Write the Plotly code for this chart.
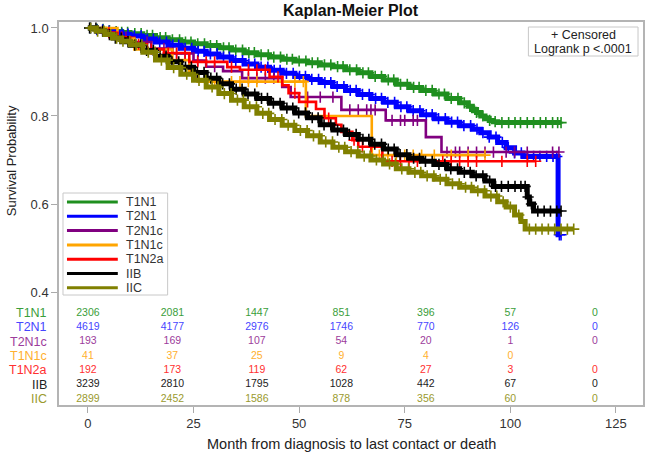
import numpy as np
import plotly.graph_objects as go

# ---------------- data ----------------
groups = ["T1N1", "T2N1", "T2N1c", "T1N1c", "T1N2a", "IIB", "IIC"]

# T1N1
t1n1_t = [2, 4, 6, 8, 10, 13, 16, 19, 22, 25, 28, 31, 34, 37, 40, 43, 46, 49, 52, 55, 58, 61, 64, 67, 70, 73, 76,
          79, 82, 85, 88, 90, 91, 92, 93, 94, 95, 96, 97]
t1n1_s = [0.997, 0.994, 0.992, 0.990, 0.987, 0.983, 0.978, 0.973, 0.968, 0.964, 0.960, 0.955, 0.950, 0.944, 0.939,
          0.934, 0.929, 0.925, 0.921, 0.916, 0.912, 0.905, 0.898, 0.890, 0.882, 0.872, 0.865, 0.858, 0.850, 0.840,
          0.830, 0.822, 0.815, 0.808, 0.800, 0.795, 0.790, 0.787, 0.785]
t1n1_c = [0.5, 2.2, 3.6, 5.1, 6.7, 8.0, 9.4, 11.1, 12.6, 14.0, 15.3, 17.1, 18.4, 20.0, 21.7, 23.1, 24.4, 26.0, 27.6,
          29.0, 30.5, 32.1, 33.4, 35.0, 36.6, 38.1, 39.4, 41.0, 42.7, 44.0, 45.6, 47.1, 48.4, 50.0, 51.6, 53.1, 54.4,
          56.0, 57.5, 59.1, 60.4, 62.0, 63.6, 65.1, 66.4, 68.0, 69.5, 71.1, 72.4, 74.0, 75.6, 77.1, 78.4, 80.0, 81.5,
          83.1, 84.4, 86.0, 87.6, 89.1, 90.4, 92.0, 93.5, 95.1, 96.4, 98.0, 99.6, 101.1, 102.4, 104.0, 105.5, 107.1,
          108.4, 110.0, 111.2, 112.0]

# T2N1
t2n1_t = [2, 4, 6, 8, 10, 13, 16, 19, 22, 25, 28, 31, 34, 37, 40, 43, 46, 49, 52, 55, 58, 61, 64, 67, 70, 73, 76,
          79, 82, 85, 88, 91, 93, 95, 97, 99, 101, 103, 111.3]
t2n1_s = [0.996, 0.993, 0.990, 0.986, 0.982, 0.975, 0.968, 0.961, 0.954, 0.947, 0.941, 0.934, 0.926, 0.918, 0.911,
          0.904, 0.897, 0.890, 0.883, 0.876, 0.867, 0.858, 0.849, 0.840, 0.831, 0.821, 0.812, 0.803, 0.794, 0.786,
          0.778, 0.770, 0.762, 0.752, 0.740, 0.728, 0.716, 0.708, 0.530]
t2n1_c = [0.6, 2.1, 3.5, 5.0, 6.6, 8.1, 9.5, 11.0, 12.6, 14.1, 15.5, 17.0, 18.6, 20.1, 21.5, 23.0, 24.6, 26.1, 27.5,
          29.0, 30.6, 32.1, 33.5, 35.0, 36.6, 38.1, 39.5, 41.0, 42.6, 44.1, 45.5, 47.0, 48.6, 50.1, 51.5, 53.0, 54.6,
          56.1, 57.5, 59.0, 60.6, 62.1, 63.5, 65.0, 66.6, 68.1, 69.5, 71.0, 72.6, 74.1, 75.5, 77.0, 78.6, 80.1, 81.5,
          83.0, 84.6, 86.1, 87.5, 89.0, 90.6, 92.1, 93.5, 95.0, 96.6, 98.1, 99.5, 101.0, 102.6, 104.1, 105.5, 107.0,
          108.6, 110.1, 111.0, 111.6, 112.0]

# T2N1c
t2n1c_t = [3, 7, 11, 15, 20, 25, 28, 32, 36.5, 46, 48, 60, 70.5, 80, 83.7]
t2n1c_s = [0.990, 0.979, 0.968, 0.953, 0.942, 0.926, 0.912, 0.902, 0.886, 0.866, 0.843, 0.814, 0.790, 0.752, 0.718]
t2n1c_c = [5, 9, 14, 18, 21, 23, 26, 30, 38, 40, 42, 44, 52, 55, 58, 62, 64, 66, 67, 68, 72, 74, 75, 77, 78, 85,
           87, 88, 90, 92, 94, 96, 99, 101, 104, 110, 111.5]

# T1N1c
t1n1c_t = [7, 11, 20, 24, 26, 51.6, 67.2]
t1n1c_s = [0.976, 0.951, 0.927, 0.902, 0.878, 0.800, 0.711]
t1n1c_c = [30, 34, 36, 38, 40, 49, 51, 69, 71, 73, 75, 77, 79, 82, 86, 90, 94]

# T1N2a
t1n2a_t = [2, 4, 7, 10, 14, 18, 24, 33, 36, 43, 46, 47.5, 50, 54, 56, 58.7, 60, 62.6, 64, 69.7]
t1n2a_s = [0.995, 0.989, 0.979, 0.963, 0.952, 0.943, 0.923, 0.911, 0.905, 0.889, 0.870, 0.852, 0.832, 0.816,
           0.795, 0.780, 0.764, 0.745, 0.730, 0.697]
t1n2a_c = [5, 8, 12, 15, 19, 21, 23, 26, 28, 30, 34, 38, 40, 42, 45, 49, 52, 57, 63, 65, 67, 72, 74, 76, 78, 84,
           86, 88, 90, 92, 98, 104, 106]

# IIB
iib_t = [2, 4, 6, 8, 10, 13, 16, 19, 22, 25, 28, 31, 34, 37, 40, 43, 46, 49, 52, 55, 58, 61, 64, 67, 70, 73, 76, 79,
         82, 85, 88, 91, 94, 96, 104, 104.5, 105.5]
iib_s = [0.993, 0.985, 0.977, 0.969, 0.961, 0.949, 0.936, 0.923, 0.911, 0.899, 0.886, 0.873, 0.861, 0.850, 0.840,
         0.829, 0.818, 0.807, 0.796, 0.780, 0.768, 0.758, 0.747, 0.736, 0.725, 0.712, 0.704, 0.697, 0.690, 0.680,
         0.672, 0.664, 0.652, 0.640, 0.616, 0.600, 0.584]
iib_c = [0.4, 1.9, 3.5, 5.1, 6.5, 7.9, 9.5, 11.1, 12.5, 13.9, 15.5, 17.1, 18.5, 19.9, 21.5, 23.1, 24.5, 25.9, 27.5,
         29.1, 30.5, 31.9, 33.5, 35.1, 36.5, 37.9, 39.5, 41.1, 42.5, 43.9, 45.5, 47.1, 48.5, 49.9, 51.5, 53.1, 54.5,
         55.9, 57.5, 59.1, 60.5, 61.9, 63.5, 65.1, 66.5, 67.9, 69.5, 71.1, 72.5, 73.9, 75.5, 77.1, 78.5, 79.9, 81.5,
         83.1, 84.5, 85.9, 87.5, 89.1, 90.5, 91.9, 93.5, 95.1, 96.5, 97.9, 99.5, 101.1, 102.5, 103.5, 104.2, 105.0,
         106.5, 108.0, 109.5, 111.0, 112.0]

# IIC
iic_t = [2, 4, 6, 8, 10, 13, 16, 19, 22, 25, 28, 31, 34, 37, 40, 43, 46, 49, 52, 55, 58, 61, 64, 67, 70, 73, 76, 79,
         82, 85, 88, 91, 94, 97, 99, 101, 102.5, 103.5]
iic_s = [0.993, 0.985, 0.977, 0.970, 0.962, 0.945, 0.927, 0.910, 0.895, 0.881, 0.866, 0.851, 0.836, 0.821, 0.806,
         0.792, 0.779, 0.767, 0.755, 0.741, 0.729, 0.719, 0.709, 0.700, 0.691, 0.680, 0.672, 0.664, 0.656, 0.646,
         0.638, 0.630, 0.618, 0.605, 0.593, 0.575, 0.560, 0.543]
iic_c = [0.7, 2.3, 3.8, 5.4, 6.8, 8.3, 9.9, 11.4, 12.8, 14.3, 15.9, 17.4, 18.8, 20.3, 21.9, 23.4, 24.8, 26.3, 27.9,
         29.4, 30.8, 32.3, 33.9, 35.4, 36.8, 38.3, 39.9, 41.4, 42.8, 44.3, 45.9, 47.4, 48.8, 50.3, 51.9, 53.4, 54.8,
         56.3, 57.9, 59.4, 60.8, 62.3, 63.9, 65.4, 66.8, 68.3, 69.9, 71.4, 72.8, 74.3, 75.9, 77.4, 78.8, 80.3, 81.9,
         83.4, 84.8, 86.3, 87.9, 89.4, 90.8, 92.3, 93.9, 95.4, 96.8, 98.3, 100.0, 102.0, 104.5, 106.0, 107.5, 109.0,
         110.5, 112.0, 113.5, 115.0]

# number at risk
risk_times = [0, 20, 40, 60, 80, 100, 120]
t1n1_risk = [2306, 2081, 1447, 851, 396, 57, 0]
t2n1_risk = [4619, 4177, 2976, 1746, 770, 126, 0]
t2n1c_risk = [193, 169, 107, 54, 20, 1, 0]
t1n1c_risk = [41, 37, 25, 9, 4, 0]
t1n2a_risk = [192, 173, 119, 62, 27, 3, 0]
iib_risk = [3239, 2810, 1795, 1028, 442, 67, 0]
iic_risk = [2899, 2452, 1586, 878, 356, 60, 0]

x_ticks = [0, 25, 50, 75, 100, 125]
y_ticks = [0.4, 0.6, 0.8, 1.0]
inset_lines = ["+ Censored", "Logrank p <.0001"]

# ---------------- styling ----------------
line_colors = ["#1f8f1f", "#0000ff", "#800080", "#ffa500", "#ff0000", "#000000", "#808000"]
text_colors = ["#3a9e3a", "#4646ff", "#9c3c9c", "#ffb02e", "#ff3030", "#222222", "#9a9a2e"]
dense = [True, True, False, False, False, True, True]
FONT = "Liberation Sans, Arial, sans-serif"

W, H = 647, 455
PL, PR, PT, PB = 59, 645, 22, 405          # frame in page pixels
L, T = PL, PT
R, B = W - PR, H - PB
plot_w = PR - PL
plot_h = PB - PT
X_RANGE = [-6.84, 131.4]
Y_RANGE = [0.1432, 1.0136]


def px_x(px):
    return (px - PL) / plot_w


def px_y(py):
    return (PB - py) / plot_h


def y_from_py(py):
    return Y_RANGE[0] + (PB - py) / plot_h * (Y_RANGE[1] - Y_RANGE[0])


series = [
    (t1n1_t, t1n1_s, t1n1_c, t1n1_risk),
    (t2n1_t, t2n1_s, t2n1_c, t2n1_risk),
    (t2n1c_t, t2n1c_s, t2n1c_c, t2n1c_risk),
    (t1n1c_t, t1n1c_s, t1n1c_c, t1n1c_risk),
    (t1n2a_t, t1n2a_s, t1n2a_c, t1n2a_risk),
    (iib_t, iib_s, iib_c, iib_risk),
    (iic_t, iic_s, iic_c, iic_risk),
]

fig = go.Figure()

for i, (name, (et, es, ct, rk)) in enumerate(zip(groups, series)):
    et = list(et)
    es = list(es)
    end_t = max(max(ct), et[-1])
    xs = [0] + et + [end_t]
    ys = [1.0] + es + [es[-1]]
    fig.add_trace(go.Scatter(x=xs, y=ys, mode="lines",
                             line=dict(color=line_colors[i], width=5.0 if dense[i] else 2.6, shape="hv"),
                             name=name, showlegend=False, hoverinfo="skip"))
    et_arr = np.array(et)
    es_arr = np.array(es)
    idx = np.searchsorted(et_arr, np.array(ct), side="right") - 1
    cy = np.where(idx >= 0, es_arr[np.clip(idx, 0, None)], 1.0)
    fig.add_trace(go.Scatter(x=ct, y=cy, mode="markers",
                             marker=dict(symbol="cross-thin", size=8, line=dict(color=line_colors[i], width=1.6)),
                             showlegend=False, hoverinfo="skip"))

# risk table (inside the frame below 0.4)
row_py0, row_dy = 313.0, 14.33
for i, (name, (et, es, ct, rk)) in enumerate(zip(groups, series)):
    yv = y_from_py(row_py0 + i * row_dy)
    fig.add_trace(go.Scatter(x=risk_times[:len(rk)], y=[yv] * len(rk), mode="text",
                             text=[str(v) for v in rk], textposition="middle center",
                             textfont=dict(family=FONT, size=10.5, color=text_colors[i]),
                             showlegend=False, hoverinfo="skip"))
    fig.add_annotation(x=px_x(49), y=yv, xref="paper", yref="y", text=name, showarrow=False,
                       xanchor="right", yanchor="middle", font=dict(family=FONT, size=12.5, color=text_colors[i]))

# custom legend box
shapes = [dict(type="rect", xref="paper", yref="paper", x0=px_x(63), x1=px_x(168), y0=px_y(295), y1=px_y(193),
               line=dict(color="#c8c8c8", width=1), fillcolor="white", layer="above")]
for i, name in enumerate(groups):
    py = 202 + i * 14.3
    shapes.append(dict(type="line", xref="paper", yref="paper", x0=px_x(67), x1=px_x(118), y0=px_y(py), y1=px_y(py),
                       line=dict(color=line_colors[i], width=3), layer="above"))
    fig.add_annotation(x=px_x(124), y=px_y(py), xref="paper", yref="paper", text=name, showarrow=False,
                       xanchor="left", yanchor="middle", font=dict(family=FONT, size=12.5, color="#333333"))

# censored / logrank inset box
shapes.append(dict(type="rect", xref="paper", yref="paper", x0=px_x(530), x1=px_x(640), y0=px_y(56), y1=px_y(27),
                   line=dict(color="#c8c8c8", width=1), fillcolor="white", layer="above"))
for j, txt in enumerate(inset_lines):
    fig.add_annotation(x=px_x(585), y=px_y(34.5 + j * 14.3), xref="paper", yref="paper", text=txt,
                       showarrow=False, xanchor="center", yanchor="middle",
                       font=dict(family=FONT, size=12.5, color="#222222"))

# title and axis titles
fig.add_annotation(x=0.5, y=px_y(10), xref="paper", yref="paper", text="<b>Kaplan-Meier Plot</b>", showarrow=False,
                   xanchor="center", yanchor="middle", font=dict(family=FONT, size=16, color="#111111"))
fig.add_annotation(x=px_x(11), y=px_y(161), xref="paper", yref="paper", text="Survival Probability",
                   showarrow=False, textangle=-90, xanchor="center", yanchor="middle",
                   font=dict(family=FONT, size=13, color="#222222"))
fig.add_annotation(x=px_x(352), y=px_y(444), xref="paper", yref="paper",
                   text="Month from diagnosis to last contact or death", showarrow=False,
                   xanchor="center", yanchor="middle", font=dict(family=FONT, size=14.5, color="#222222"))

fig.update_layout(
    width=W, height=H, margin=dict(l=L, r=R, t=T, b=B, pad=0),
    paper_bgcolor="white", plot_bgcolor="white",
    shapes=shapes, showlegend=False, hovermode=False,
    font=dict(family=FONT, size=13, color="#333333"),
    xaxis=dict(range=X_RANGE, tickvals=x_ticks, ticks="outside", ticklen=6, tickcolor="#aaaaaa",
               showline=True, mirror=True, linecolor="#b4b4b4", linewidth=1.5, showgrid=False, zeroline=False,
               tickfont=dict(family=FONT, size=13, color="#333333")),
    yaxis=dict(range=Y_RANGE, tickvals=y_ticks, tickformat=".1f", ticks="outside", ticklen=6, tickcolor="#aaaaaa",
               showline=True, mirror=True, linecolor="#b4b4b4", linewidth=1.5, showgrid=False, zeroline=False,
               tickfont=dict(family=FONT, size=13, color="#333333")),
)

# remove the browser's default 8px page margin so the figure fills the window exactly
fig.write_html("out.html", config={"displayModeBar": False},
               post_script="document.body.style.margin='0px';")
